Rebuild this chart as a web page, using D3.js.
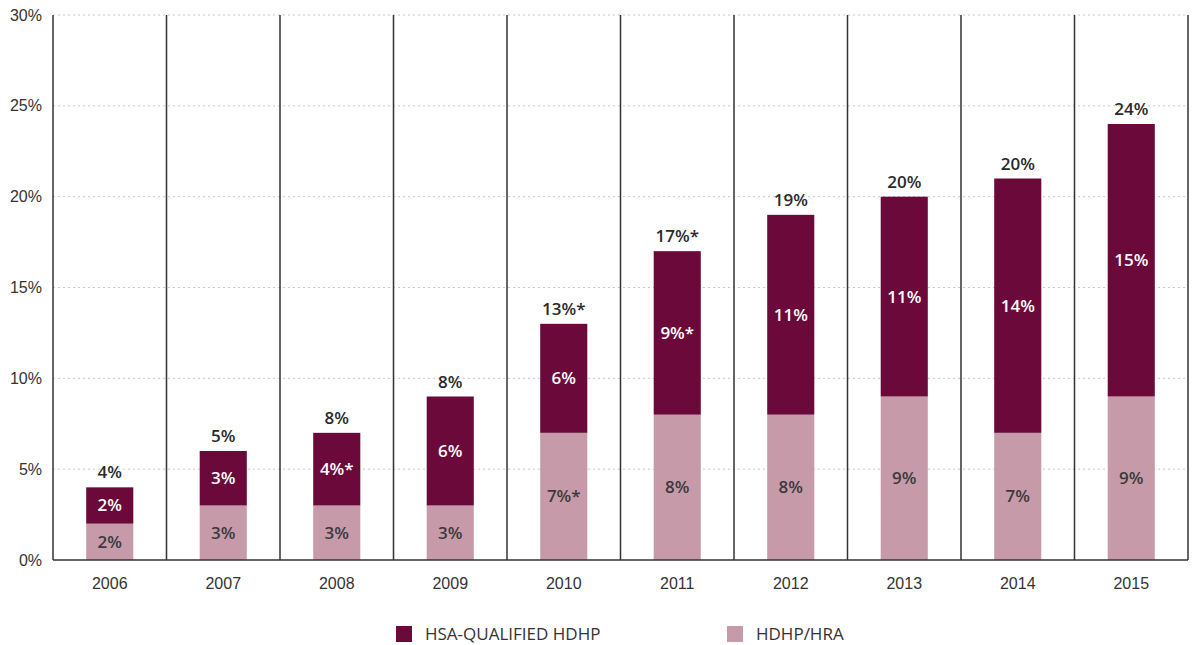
<!DOCTYPE html>
<html>
<head>
<meta charset="utf-8">
<script src="https://cdn.jsdelivr.net/npm/d3@7"></script>
<style>
  body { margin: 0; background: #fff; }
  svg { display: block; font-family: "Open Sans", "Noto Sans", sans-serif; }
</style>
</head>
<body>
<svg id="chart" width="1192" height="645"></svg>
<script>
// Plan enrollment by year (percent of covered workers)
const years = ["2006", "2007", "2008", "2009", "2010", "2011", "2012", "2013", "2014", "2015"];
const hraValues = [2, 3, 3, 3, 7, 8, 8, 9, 7, 9];          // HDHP/HRA
const hsaValues = [2, 3, 4, 6, 6, 9, 11, 11, 14, 15];      // HSA-qualified HDHP
const hraLabels = ["2%", "3%", "3%", "3%", "7%*", "8%", "8%", "9%", "7%", "9%"];
const hsaLabels = ["2%", "3%", "4%*", "6%", "6%", "9%*", "11%", "11%", "14%", "15%"];
const totalLabels = ["4%", "5%", "8%", "8%", "13%*", "17%*", "19%", "20%", "20%", "24%"];
const yTicks = [0, 5, 10, 15, 20, 25, 30];
const seriesNames = ["HSA-QUALIFIED HDHP", "HDHP/HRA"];

const colors = { hsa: "#6b0a3a", hra: "#c79aaa" };

const svg = d3.select("#chart");
const margin = { left: 53, right: 4, top: 15, bottom: 85 };
const W = 1192, H = 645;
const x0 = margin.left, x1 = W - margin.right;
const yTop = margin.top, yBot = H - margin.bottom;

const x = d3.scaleBand().domain(years).range([x0, x1]).paddingInner(0).paddingOuter(0);
const y = d3.scaleLinear().domain([0, 30]).range([yBot, yTop]);

// dotted horizontal gridlines
svg.append("g")
  .selectAll("line")
  .data(yTicks.filter(t => t > 0))
  .join("line")
  .attr("x1", x0).attr("x2", x1)
  .attr("y1", d => y(d)).attr("y2", d => y(d))
  .attr("stroke", "#c8c8c8")
  .attr("stroke-width", 1)
  .attr("stroke-dasharray", "2,3");

// y axis labels
const yAxis = d3.axisLeft(y).tickValues(yTicks).tickFormat(d => d + "%").tickSize(0).tickPadding(11);
const gy = svg.append("g").attr("transform", `translate(${x0},0)`).call(yAxis);
gy.select(".domain").remove();
gy.selectAll("text").attr("font-size", 16).attr("fill", "#333");

// column separators
const seps = years.map(d => x(d)).concat([x1]);
svg.append("g")
  .selectAll("line")
  .data(seps)
  .join("line")
  .attr("x1", d => d).attr("x2", d => d)
  .attr("y1", yTop).attr("y2", yBot)
  .attr("stroke", "#333")
  .attr("stroke-width", 1.5);

// stacked bars
const barW = x.bandwidth() * 0.415;
const rows = years.map((yr, i) => ({ year: yr, hra: hraValues[i], hsa: hsaValues[i], i }));
const stack = d3.stack().keys(["hra", "hsa"])(rows);

const gBars = svg.append("g");
stack.forEach(layer => {
  gBars.append("g")
    .selectAll("rect")
    .data(layer)
    .join("rect")
    .attr("x", d => x(d.data.year) + (x.bandwidth() - barW) / 2)
    .attr("width", barW)
    .attr("y", d => y(d[1]))
    .attr("height", d => y(d[0]) - y(d[1]))
    .attr("fill", colors[layer.key]);
});

// bottom axis line and year labels
svg.append("line")
  .attr("x1", x0).attr("x2", x1)
  .attr("y1", yBot).attr("y2", yBot)
  .attr("stroke", "#333").attr("stroke-width", 1.5);

const xAxis = d3.axisBottom(x).tickSize(0).tickPadding(18);
const gx = svg.append("g").attr("transform", `translate(0,${yBot})`).call(xAxis);
gx.select(".domain").remove();
gx.selectAll("text").attr("font-size", 16).attr("fill", "#333");

// segment labels
const labelLayer = svg.append("g").attr("font-weight", 600).attr("font-size", 17).attr("text-anchor", "middle");
const labelSets = { hra: hraLabels, hsa: hsaLabels };
stack.forEach(layer => {
  labelLayer.append("g")
    .selectAll("text")
    .data(layer)
    .join("text")
    .attr("x", d => x(d.data.year) + x.bandwidth() / 2)
    .attr("y", d => (y(d[0]) + y(d[1])) / 2)
    .attr("dy", "0.35em")
    .attr("fill", layer.key === "hsa" ? "#fff" : "#3a3a3a")
    .text(d => labelSets[layer.key][d.data.i]);
});

// totals above each bar
const topLayer = stack[stack.length - 1];
labelLayer.append("g")
  .selectAll("text")
  .data(topLayer)
  .join("text")
  .attr("x", d => x(d.data.year) + x.bandwidth() / 2)
  .attr("y", d => y(d[1]) - 9)
  .attr("fill", "#2a2a2a")
  .text(d => totalLabels[d.data.i]);

// legend
const legend = svg.append("g").attr("font-size", 17).attr("fill", "#333");
const legendItems = [
  { name: seriesNames[0], color: colors.hsa, x: 396 },
  { name: seriesNames[1], color: colors.hra, x: 727 }
];
legendItems.forEach(it => {
  legend.append("rect")
    .attr("x", it.x).attr("y", 626).attr("width", 16).attr("height", 16)
    .attr("fill", it.color);
  legend.append("text")
    .attr("x", it.x + 29).attr("y", 634).attr("dy", "0.35em")
    .attr("fill", "#333")
    .text(it.name);
});
</script>
</body>
</html>
